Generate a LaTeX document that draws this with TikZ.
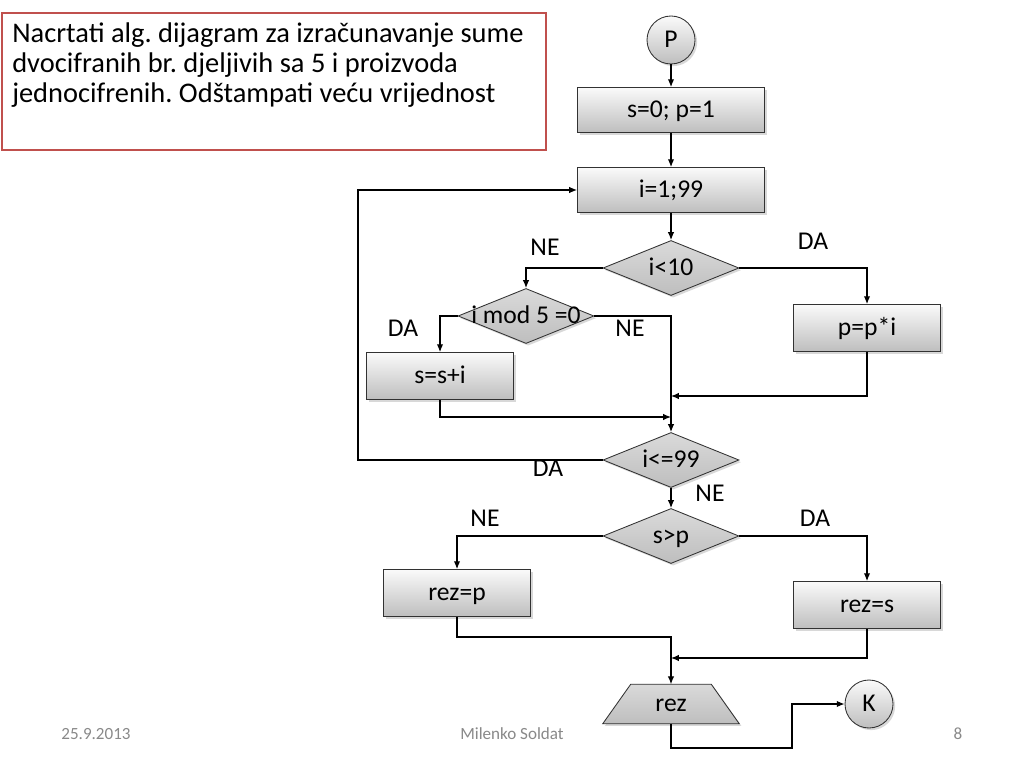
\documentclass[tikz,border=0pt]{standalone}
\usepackage{fontspec}
\setmainfont{Carlito}
\frenchspacing
\usetikzlibrary{shapes.geometric,arrows.meta,shadows,calc}
\definecolor{titlered}{RGB}{192,80,77}
\definecolor{boxtop}{RGB}{250,250,250}
\definecolor{boxbot}{RGB}{190,190,190}
\definecolor{diatop}{RGB}{218,218,218}
\definecolor{diabot}{RGB}{190,190,190}
\definecolor{footgray}{RGB}{137,137,137}
\definecolor{edgegray}{RGB}{50,50,50}
\begin{document}
\begin{tikzpicture}[x=0.703125pt,y=-0.703125pt,
  txt/.style={font=\fontsize{18}{21.8}\selectfont},
  titletxt/.style={font=\fontsize{20}{22}\selectfont,anchor=base west,inner sep=0pt},
  fixedline/.style={text height=13pt,text depth=3pt},
  softshadow/.style={drop shadow={shadow xshift=1.5pt,shadow yshift=-1.5pt,opacity=0.3}},
  procbox/.style={txt,fixedline,draw=edgegray,line width=0.6pt,top color=boxtop,bottom color=boxbot,minimum width=103.4pt,minimum height=33pt,inner sep=0pt,softshadow},
  widebox/.style={procbox,minimum width=131.5pt,minimum height=31.6pt},
  decision/.style={shape=diamond,draw=edgegray,line width=0.6pt,top color=diatop,bottom color=diabot,minimum width=95.6pt,minimum height=38.7pt,inner sep=0pt,softshadow},
  dlabel/.style={txt,fixedline,inner sep=0pt},
  terminal/.style={circle,txt,fixedline,draw=edgegray,line width=0.6pt,top color=boxtop,bottom color=diabot,minimum size=33.75pt,inner sep=0pt,softshadow},
  flow/.style={-{Latex[length=5.5pt,width=4.5pt]},line width=0.8pt},
  yn/.style={txt,inner sep=0pt},
  foot/.style={font=\fontsize{12}{14}\selectfont,text=footgray,inner sep=0pt}
]
\fill[white] (0,0) rectangle (1024,768);
\useasboundingbox (0,0) rectangle (1024,768);

% title box
\node[draw=titlered,line width=1.5pt,minimum width=382.5pt,minimum height=96.3pt,anchor=north west,inner sep=0pt] (titlebox) at (1,12) {};
\node[titletxt] (t1) at (12,43) {Nacrtati alg. dijagram za izračunavanje sume};
\node[titletxt] (t2) at (12,73) {dvocifranih br. djeljivih sa 5 i proizvoda};
\node[titletxt] (t3) at (12,103) {jednocifrenih. Odštampati veću vrijednost};

% nodes
\node[terminal] (P) at (671,40) {P};
\node[widebox] (b1) at (671,110) {s=0; p=1};
\node[widebox] (b2) at (671,190) {i=1;99};
\node[decision] (d1) at (671,268) {};
\node[dlabel] (d1t) at (d1) {i<10};
\node[decision] (d2) at (526,316) {};
\node[dlabel] (d2t) at (d2) {i mod 5 =0};
\node[procbox] (s1) at (440,376) {s=s+i};
\node[procbox] (p1) at (867,328) {p=p*i};
\node[decision] (d3) at (671,460) {};
\node[dlabel] (d3t) at (d3) {i<=99};
\node[decision] (d4) at (671,536) {};
\node[dlabel] (d4t) at (d4) {s>p};
\node[procbox] (r1) at (457,593) {rez=p};
\node[procbox] (r2) at (867,605) {rez=s};
\node[inner sep=0pt,minimum width=95.6pt,minimum height=27.4pt] (rez) at (671,704) {};
\draw[draw=edgegray,line width=0.6pt,top color=diatop,bottom color=diabot,softshadow]
  (rez.south west) -- (rez.south east) -- ($(rez.north east)+(-28,0)$) -- ($(rez.north west)+(28,0)$) -- cycle;
\node[dlabel] (reztxt) at (rez) {rez};
\node[terminal] (K) at (869,704) {K};

% helper coordinates
\coordinate (j1) at (671,417);
\coordinate (j2) at (671,396);
\coordinate (lp) at (358,300);
\coordinate (j3) at (671,637);
\coordinate (j4) at (671,658);
\coordinate (j5) at (792,748);

% connectors
\draw[flow] (P.south) -- (b1.north);
\draw[flow] (b1.south) -- (b2.north);
\draw[flow] (b2.south) -- (d1.north);
\draw[flow] (d1.west) -| (d2.north);
\draw[flow] (d1.east) -| (p1.north);
\draw[flow] (d2.west) -| (s1.north);
\draw[flow] (d2.east) -| (d3.north);
\draw[flow] (s1.south) |- (j1);
\draw[flow] (p1.south) |- (j2);
\draw[flow] (d3.west) -- (d3.west -| lp) |- (b2.west);
\draw[flow] (d3.south) -- (d4.north);
\draw[flow] (d4.west) -| (r1.north);
\draw[flow] (d4.east) -| (r2.north);
\draw[flow] (r1.south) |- (j3) -- (rez.north);
\draw[flow] (r2.south) |- (j4);
\draw[flow] (rez.south) |- (j5) |- (K.west);

% branch labels
\node[yn] (l1) at (545,247) {NE};
\node[yn] (l2) at (813,241) {DA};
\node[yn] (l3) at (403,328) {DA};
\node[yn] (l4) at (630,328) {NE};
\node[yn] (l5) at (548,468) {DA};
\node[yn] (l6) at (710,493) {NE};
\node[yn] (l7) at (485,518) {NE};
\node[yn] (l8) at (815,518) {DA};

% footer
\node[foot] (date) at (96,734) {25.9.2013};
\node[foot] (author) at (512,734) {Milenko Soldat};
\node[foot] (page) at (958,734) {8};
\end{tikzpicture}
\end{document}
